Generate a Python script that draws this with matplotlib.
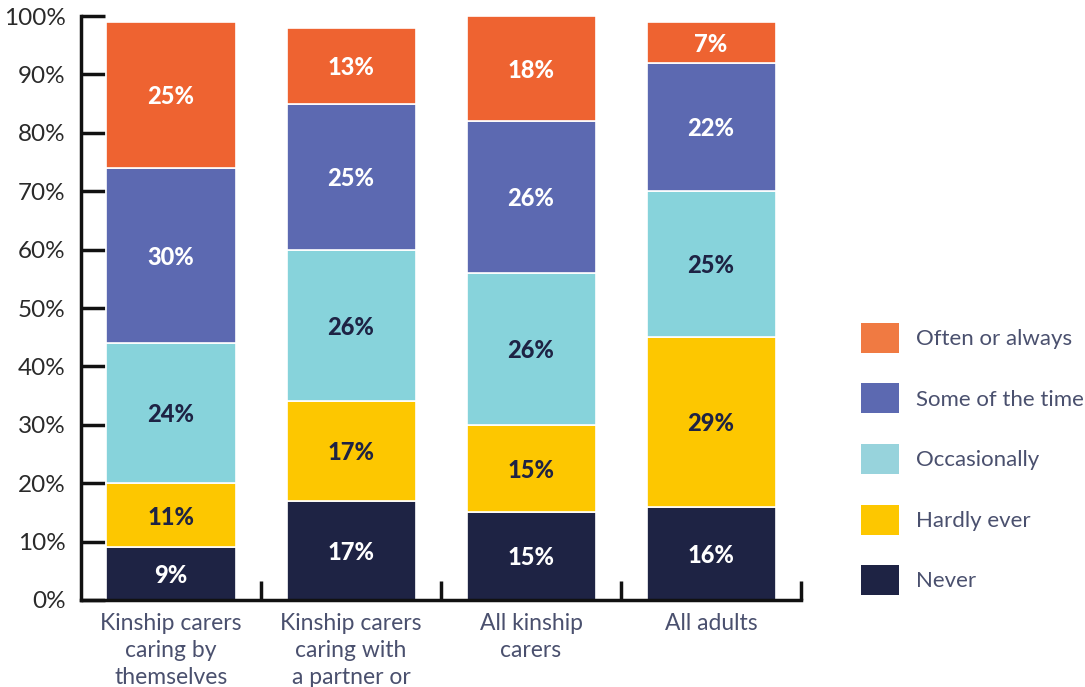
import matplotlib
matplotlib.use("Agg")
import matplotlib.pyplot as plt
from matplotlib.patches import Patch
import numpy as np

# Survey groups and response shares (%), stacked bottom to top
groups = [
    "Kinship carers\ncaring by\nthemselves",
    "Kinship carers\ncaring with\na partner or",
    "All kinship\ncarers",
    "All adults",
]
responses = ["Never", "Hardly ever", "Occasionally", "Some of the time", "Often or always"]
never = [9, 17, 15, 16]
hardly_ever = [11, 17, 15, 29]
occasionally = [24, 26, 26, 25]
some_of_the_time = [30, 25, 26, 22]
often_or_always = [25, 13, 18, 7]
yticks = list(range(0, 101, 10))
ytick_labels = [f"{v}%" for v in yticks]

series = [never, hardly_ever, occasionally, some_of_the_time, often_or_always]
colors = ["#1E2344", "#FDC700", "#87D3DB", "#5C69B1", "#EE6331"]
legend_colors = ["#1E2344", "#FDC700", "#97D3DC", "#5C69B1", "#F07A42"]
label_colors = ["white", "#1E2344", "#1E2344", "white", "white"]

plt.rcParams["font.family"] = ["Lato", "DejaVu Sans"]

fig = plt.figure(figsize=(10.85, 6.87), dpi=100)
ax = fig.add_axes([81 / 1085, 87 / 687, 720 / 1085, 584 / 687])

x = np.arange(len(groups)) + 0.5
bottom = np.zeros(len(groups))
for vals, col, lcol in zip(series, colors, label_colors):
    vals = np.array(vals, dtype=float)
    ax.bar(x, vals, width=129 / 180, bottom=bottom, color=col,
           edgecolor="white", linewidth=1.2, zorder=2)
    for xi, bi, vi in zip(x, bottom, vals):
        ax.text(xi, bi + vi / 2 - 0.3, f"{int(vi)}%", ha="center", va="center",
                fontsize=17, fontweight="black", color=lcol, zorder=3)
    bottom += vals

ax.set_xlim(0, 4)
ax.set_ylim(0, 100)

# Axes styling
for s in ["top", "right"]:
    ax.spines[s].set_visible(False)
for s in ["left", "bottom"]:
    ax.spines[s].set_linewidth(2.5)
    ax.spines[s].set_color("#111111")
    ax.spines[s].set_capstyle("projecting")

ax.set_yticks(yticks)
ax.set_yticklabels(ytick_labels)
ax.tick_params(axis="y", direction="in", length=17, width=2.5, color="#111111",
               labelsize=17.5, labelcolor="#2A2A2A", pad=11)

# Boundary ticks between groups, labels at bar centres
ax.set_xticks([1, 2, 3, 4])
ax.set_xticklabels([])
ax.tick_params(axis="x", which="major", direction="in", length=14, width=2.5,
               color="#111111")
ax.set_xticks(x, minor=True)
ax.set_xticklabels(groups, minor=True)
ax.tick_params(axis="x", which="minor", length=0, pad=9, labelsize=16.5,
               labelcolor="#4A506E")
for t in ax.get_xticklabels(minor=True):
    t.set_linespacing(1.38)
    t.set_va("top")

# Legend, top category first
handles = [Patch(facecolor=c, edgecolor="none") for c in legend_colors[::-1]]
fig.legend(handles, responses[::-1], loc="center left",
           bbox_to_anchor=(861 / 1085, 1 - 459 / 687), frameon=False,
           handlelength=1.71, handleheight=1.71,
           handletextpad=0.77, labelspacing=1.37, labelcolor="#4A506E",
           borderaxespad=0, borderpad=0,
           prop={"size": 16})

fig.savefig("out.png", dpi=100)
